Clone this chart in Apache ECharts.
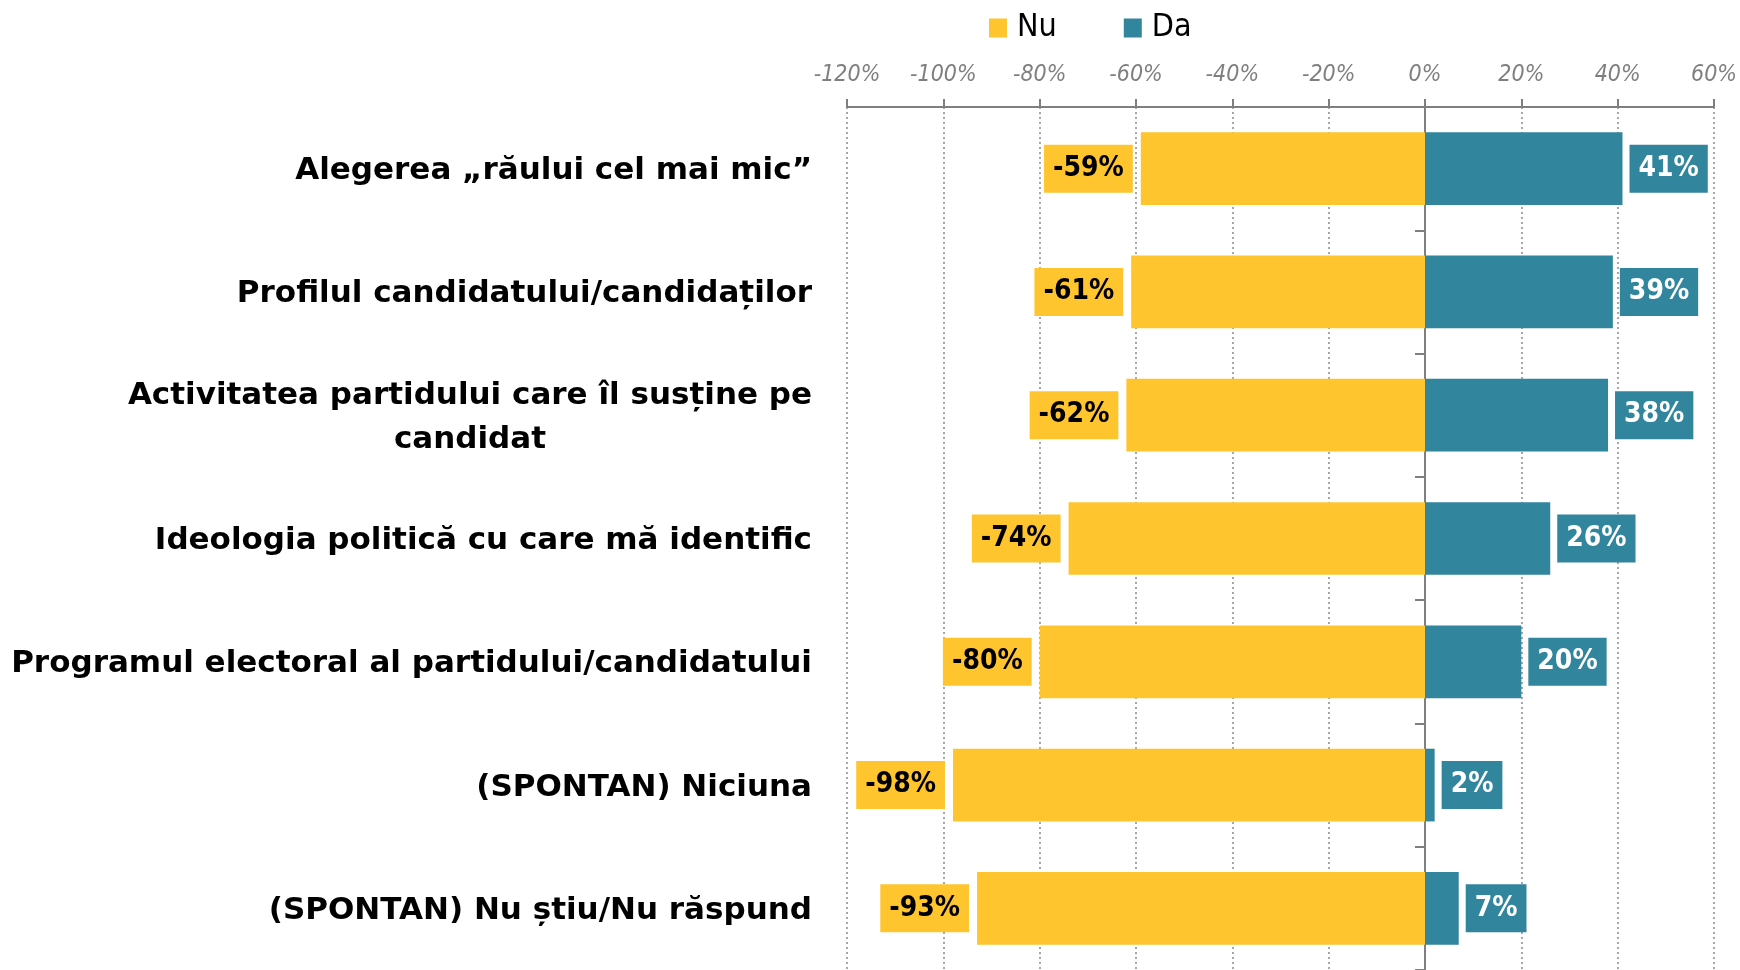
<!DOCTYPE html>
<html>
<head>
<meta charset="utf-8">
<script src="https://cdn.jsdelivr.net/npm/echarts@6/dist/echarts.min.js"></script>
<style>
  html, body { margin: 0; padding: 0; background: #fff; }
  #chart { width: 1740px; height: 970px; }
</style>
</head>
<body>
<div id="chart"></div>
<script>
var categories = [
    'Alegerea „răului cel mai mic”',
    'Profilul candidatului/candidaților',
    'Activitatea partidului care îl susține pe\ncandidat',
    'Ideologia politică cu care mă identific',
    'Programul electoral al partidului/candidatului',
    '(SPONTAN) Niciuna',
    '(SPONTAN) Nu știu/Nu răspund'
];
var nuValues = [-59, -61, -62, -74, -80, -98, -93];
var daValues = [41, 39, 38, 26, 20, 2, 7];
var seriesNames = ['Nu', 'Da'];

var FONT = '"DejaVu Sans Condensed", "DejaVu Sans", sans-serif';
var WIDE = '"DejaVu Sans", sans-serif';
var YELLOW = '#FEC52E';
var TEAL = '#31859C';
var GREY = '#7f7f7f';

var chart = echarts.init(document.getElementById('chart'));

// each line is centred inside the right-aligned label block
function catLabel(value) {
    return value.split('\n').map(function (line) {
        return '{c|' + line + '}';
    }).join('\n');
}

var option = {
    animation: false,
    textStyle: { fontFamily: FONT },
    legend: {
        data: seriesNames,
        left: 989,
        top: 12,
        icon: 'rect',
        itemWidth: 18,
        itemHeight: 19,
        itemGap: 67,
        padding: 0,
        textStyle: { fontSize: 32, color: '#000', fontFamily: FONT, padding: [0, 0, 0, 5] }
    },
    grid: {
        left: 847,
        right: 25,
        top: 107,
        bottom: -3,
        containLabel: false
    },
    xAxis: [{
        type: 'value',
        position: 'top',
        min: -120,
        max: 60,
        interval: 20,
        axisLine: { show: true, lineStyle: { color: GREY, width: 2 } },
        axisTick: { show: true, length: 8, lineStyle: { color: GREY, width: 2 } },
        axisLabel: {
            margin: 20,
            fontSize: 23,
            fontStyle: 'italic',
            color: GREY,
            fontFamily: FONT,
            formatter: function (v) { return v + '%'; }
        },
        splitLine: { show: true, lineStyle: { color: '#8a8a8a', width: 1.5, type: [2, 3] } }
    }],
    yAxis: [{
        type: 'category',
        data: categories,
        inverse: true,
        position: 'left',
        axisLine: { show: false, onZero: false },
        axisTick: { show: false },
        axisLabel: {
            margin: 35,
            padding: [5, 0, 0, 0],
            formatter: catLabel,
            rich: {
                c: {
                    align: 'center',
                    fontSize: 31,
                    fontWeight: 'bold',
                    color: '#000',
                    lineHeight: 44,
                    fontFamily: WIDE
                }
            }
        },
        splitLine: { show: false }
    }, {
        type: 'category',
        data: categories,
        inverse: true,
        position: 'left',
        axisLine: { show: true, onZero: true, onZeroAxisIndex: 0, lineStyle: { color: GREY, width: 2 } },
        axisTick: { show: true, length: 10, lineStyle: { color: GREY, width: 2 } },
        axisLabel: { show: false },
        splitLine: { show: false }
    }, {
        type: 'category',
        data: categories,
        inverse: true,
        position: 'left',
        axisLine: { show: false, onZero: true, onZeroAxisIndex: 0 },
        axisTick: { show: true, inside: true, alignWithLabel: true, length: 7, lineStyle: { color: GREY, width: 2 } },
        axisLabel: { show: false },
        splitLine: { show: false }
    }],
    series: [{
        name: 'Nu',
        type: 'bar',
        stack: 'total',
        data: nuValues,
        barCategoryGap: '41%',
        itemStyle: { color: YELLOW },
        label: {
            show: true,
            position: 'left',
            distance: 8,
            formatter: '{c}%',
            fontSize: 28,
            lineHeight: 28,
            fontWeight: 'bold',
            color: '#000',
            fontFamily: FONT,
            backgroundColor: YELLOW,
            padding: [11, 9, 9, 9]
        }
    }, {
        name: 'Da',
        type: 'bar',
        stack: 'total',
        data: daValues,
        barCategoryGap: '41%',
        itemStyle: { color: TEAL },
        label: {
            show: true,
            position: 'right',
            distance: 7,
            formatter: '{c}%',
            fontSize: 28,
            lineHeight: 28,
            fontWeight: 'bold',
            color: '#fff',
            fontFamily: FONT,
            backgroundColor: TEAL,
            padding: [11, 9, 9, 9]
        }
    }]
};

chart.setOption(option);
</script>
</body>
</html>
